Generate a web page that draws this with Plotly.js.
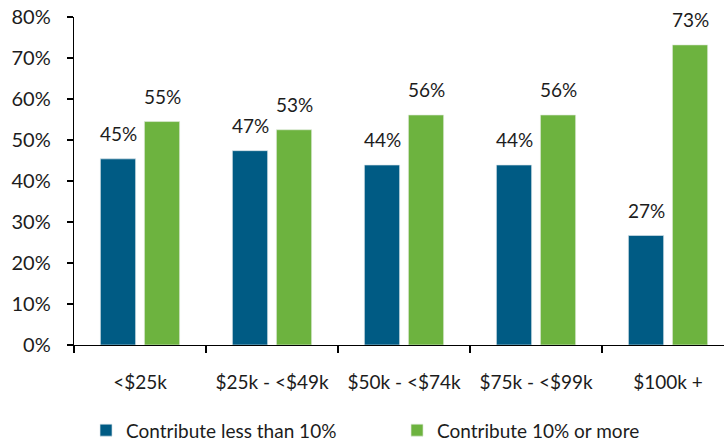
<!DOCTYPE html>
<html>
<head>
<meta charset="utf-8">
<script src="https://cdn.plot.ly/plotly-3.0.1.min.js"></script>
<style>html,body{margin:0;padding:0;background:#fff;}#chart{width:724px;height:443px;}</style>
</head>
<body>
<div id="chart"></div>
<script>
const categories = ["<$25k", "$25k - <$49k", "$50k - <$74k", "$75k - <$99k", "$100k +"];
const lessThan10 = [45.4, 47.4, 43.9, 43.9, 26.7];
const tenOrMore = [54.5, 52.5, 56.1, 56.1, 73.2];
const lessLabels = ["45%", "47%", "44%", "44%", "27%"];
const moreLabels = ["55%", "53%", "56%", "56%", "73%"];
const seriesNames = ["Contribute less than 10%", "Contribute 10% or more"];
const colors = ["#005B84", "#6DB33F"];

const FONT = "Lato, 'Open Sans', sans-serif";
const TXT = "#1c1c1c";

const traces = [
  {type: "bar", x: categories, y: lessThan10, name: seriesNames[0],
   marker: {color: colors[0], line: {color: "rgba(220,230,235,0.8)", width: 0.8}}, hoverinfo: "none"},
  {type: "bar", x: categories, y: tenOrMore, name: seriesNames[1],
   marker: {color: colors[1], line: {color: "rgba(225,235,220,0.8)", width: 0.8}}, hoverinfo: "none"}
];

const annotations = [];
categories.forEach((c, i) => {
  annotations.push({x: i - 1/6, y: lessThan10[i], xref: "x", yref: "y", text: lessLabels[i],
    showarrow: false, yanchor: "bottom", yshift: 12, font: {family: FONT, size: 19, color: TXT}});
  annotations.push({x: i + 1/6, y: tenOrMore[i], xref: "x", yref: "y", text: moreLabels[i],
    showarrow: false, yanchor: "bottom", yshift: 12, font: {family: FONT, size: 19, color: TXT}});
});

const layout = {
  width: 724, height: 443,
  margin: {l: 74, r: 0, t: 17, b: 98, autoexpand: false},
  paper_bgcolor: "#fff", plot_bgcolor: "#fff",
  font: {family: FONT, size: 19, color: TXT},
  barmode: "group", bargap: 0.333, bargroupgap: 0.2,
  xaxis: {type: "category", range: [-0.5, 4.424], showgrid: false, showline: true, linecolor: "#000", linewidth: 1.3,
    ticks: "outside", tickson: "boundaries", ticklen: 7, tickcolor: "#000", tickwidth: 1.3, ticklabelstandoff: 20,
    tickfont: {family: FONT, size: 19, color: TXT}, zeroline: false, fixedrange: true},
  yaxis: {range: [0, 80], dtick: 10, ticksuffix: "%", showgrid: false, showline: true, linecolor: "#000", linewidth: 1.3,
    ticks: "outside", ticklen: 6, tickcolor: "#000", tickwidth: 1.3, zeroline: false, ticklabelstandoff: 12,
    tickfont: {family: FONT, size: 20, color: TXT}, fixedrange: true},
  showlegend: true,
  legend: {orientation: "h", x: 0.0185, xanchor: "left", y: -0.26, yanchor: "middle",
    entrywidth: 266, entrywidthmode: "pixels", font: {family: FONT, size: 19, color: TXT}, bgcolor: "rgba(0,0,0,0)"},
  annotations: annotations
};

Plotly.newPlot("chart", traces, layout, {staticPlot: true, displayModeBar: false});
</script>
</body>
</html>
